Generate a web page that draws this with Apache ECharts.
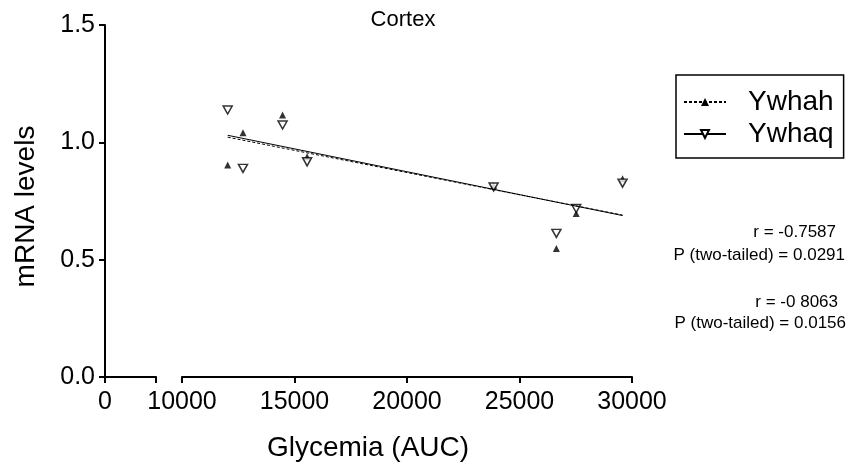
<!DOCTYPE html>
<html>
<head>
<meta charset="utf-8">
<script src="https://cdn.jsdelivr.net/npm/echarts@6/dist/echarts.min.js"></script>
<style>
html, body { margin: 0; padding: 0; background: #fff; }
#chart { width: 861px; height: 465px; }
</style>
</head>
<body>
<div id="chart"></div>
<script>
// glycemia (AUC) per animal
var glycemia = [12030, 12710, 14470, 15560, 23850, 26640, 27520, 29580];
// mRNA levels
var ywhahLevels = [0.903, 1.041, 1.117, 0.939, 0.815, 0.548, 0.697, 0.845];
var ywhaqLevels = [1.138, 0.889, 1.074, 0.917, 0.810, 0.612, 0.718, 0.826];
// regression lines, ends
var fitX = [12030, 29580];
var ywhahFit = [1.022, 0.690];
var ywhaqFit = [1.030, 0.688];
// axis ranges (x axis is broken between the two parts)
var xLowRange = [0, 2000];
var xHighRange = [10000, 30000, 5000];
var yRange = [0, 1.5, 0.5];
// statistics
var statsText = [
    ['r = -0.7587', 'P (two-tailed) = 0.0291'],
    ['r = -0 8063', 'P (two-tailed) = 0.0156']
];

var FONT = '"Liberation Sans", Arial, sans-serif';

function pairs(xs, ys) {
    return xs.map(function (x, i) { return [x, ys[i]]; });
}

var myChart = echarts.init(document.getElementById('chart'));

var axisLineStyle = { color: '#000', width: 2 };
var labelStyle = { color: '#000', fontSize: 25, fontFamily: FONT };

var option = {
    animation: false,
    backgroundColor: '#fff',
    grid: [
        { left: 105, top: 25, width: 51, height: 352 },
        { left: 182, top: 25, width: 450, height: 352 }
    ],
    xAxis: [{
        gridIndex: 0,
        type: 'value',
        min: xLowRange[0],
        max: xLowRange[1],
        interval: xLowRange[1],
        axisLine: { onZero: false, lineStyle: axisLineStyle },
        axisTick: { length: 6, lineStyle: { color: '#000', width: 2 } },
        axisLabel: Object.assign({ margin: 13, formatter: function (v) { return v === 0 ? '0' : ''; } }, labelStyle),
        splitLine: { show: false }
    }, {
        gridIndex: 1,
        type: 'value',
        min: xHighRange[0],
        max: xHighRange[1],
        interval: xHighRange[2],
        axisLine: { onZero: false, lineStyle: axisLineStyle },
        axisTick: { length: 6, lineStyle: { color: '#000', width: 2 } },
        axisLabel: Object.assign({ margin: 13, formatter: function (v) { return String(v); } }, labelStyle),
        splitLine: { show: false }
    }],
    yAxis: [{
        gridIndex: 0,
        type: 'value',
        min: yRange[0],
        max: yRange[1],
        interval: yRange[2],
        name: 'mRNA levels',
        nameLocation: 'middle',
        nameGap: 65,
        nameTextStyle: { color: '#000', fontSize: 28, fontFamily: FONT, padding: [0, 11, 0, 0] },
        axisLine: { show: true, onZero: false, lineStyle: axisLineStyle },
        axisTick: { show: true, length: 6, lineStyle: { color: '#000', width: 2 } },
        axisLabel: Object.assign({ margin: 10, formatter: function (v) { return v.toFixed(1); } }, labelStyle),
        splitLine: { show: false }
    }, {
        gridIndex: 1,
        type: 'value',
        min: yRange[0],
        max: yRange[1],
        show: false,
        splitLine: { show: false }
    }],
    legend: {
        orient: 'vertical',
        left: 676,
        top: 75,
        width: 167,
        padding: [13, 10, 10, 7],
        itemGap: 4,
        itemWidth: 42,
        itemHeight: 10,
        borderColor: '#000',
        borderWidth: 1.5,
        textStyle: { color: '#000', fontSize: 28, fontFamily: FONT, padding: [0, 0, 0, 17] },
        data: ['Ywhah', 'Ywhaq']
    },
    graphic: [
        { type: 'text', x: 403, y: 20, style: { text: 'Cortex', fill: '#000', fontSize: 22, fontFamily: FONT, align: 'center', verticalAlign: 'middle' } },
        { type: 'text', x: 368, y: 448, style: { text: 'Glycemia (AUC)', fill: '#000', fontSize: 28, fontFamily: FONT, align: 'center', verticalAlign: 'middle' } },
        { type: 'text', x: 836, y: 232, style: { text: statsText[0][0], fill: '#000', fontSize: 17, fontFamily: FONT, align: 'right', verticalAlign: 'middle' } },
        { type: 'text', x: 845, y: 255, style: { text: statsText[0][1], fill: '#000', fontSize: 17, fontFamily: FONT, align: 'right', verticalAlign: 'middle' } },
        { type: 'text', x: 838, y: 302, style: { text: statsText[1][0], fill: '#000', fontSize: 17, fontFamily: FONT, align: 'right', verticalAlign: 'middle' } },
        { type: 'text', x: 846, y: 323, style: { text: statsText[1][1], fill: '#000', fontSize: 17, fontFamily: FONT, align: 'right', verticalAlign: 'middle' } }
    ],
    series: [{
        name: 'Ywhah',
        type: 'line',
        xAxisIndex: 1,
        yAxisIndex: 1,
        data: pairs(fitX, ywhahFit),
        showSymbol: false,
        symbol: 'triangle',
        silent: true,
        lineStyle: { color: '#000', width: 1, type: [3, 2] },
        itemStyle: { color: '#000' }
    }, {
        name: 'Ywhaq',
        type: 'line',
        xAxisIndex: 1,
        yAxisIndex: 1,
        data: pairs(fitX, ywhaqFit),
        showSymbol: false,
        symbol: 'triangle',
        symbolRotate: 180,
        silent: true,
        lineStyle: { color: '#000', width: 1 },
        itemStyle: { color: '#fff', borderColor: '#000', borderWidth: 1.5 }
    }, {
        name: 'Ywhah',
        type: 'scatter',
        xAxisIndex: 1,
        yAxisIndex: 1,
        data: pairs(glycemia, ywhahLevels),
        symbol: 'triangle',
        symbolSize: 7,
        itemStyle: { color: '#000' }
    }, {
        name: 'Ywhaq',
        type: 'scatter',
        xAxisIndex: 1,
        yAxisIndex: 1,
        data: pairs(glycemia, ywhaqLevels),
        symbol: 'triangle',
        symbolRotate: 180,
        symbolSize: [9, 8],
        itemStyle: { color: '#fff', borderColor: '#000', borderWidth: 1.5 }
    }]
};
myChart.setOption(option);
</script>
</body>
</html>
